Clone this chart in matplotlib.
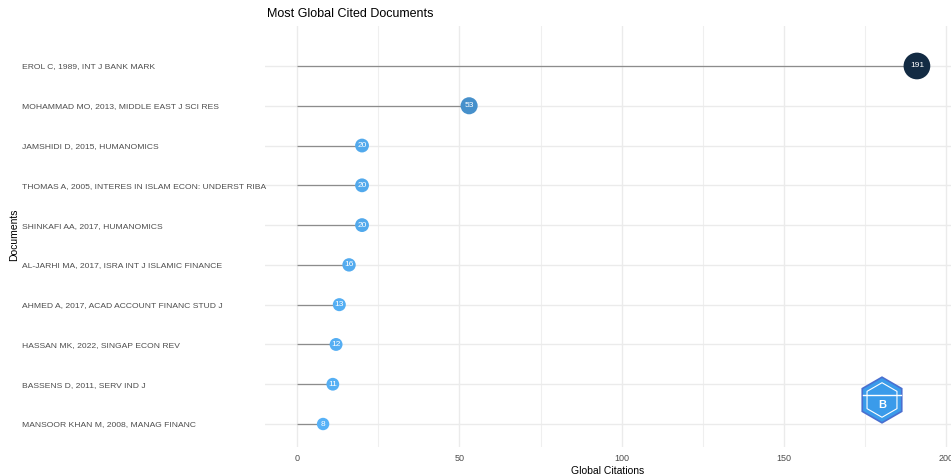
"""Most Global Cited Documents - lollipop chart"""
import matplotlib
matplotlib.use("Agg")
import matplotlib.pyplot as plt
import numpy as np
from matplotlib.colors import LinearSegmentedColormap, Normalize
from matplotlib.patches import RegularPolygon

plt.rcParams['font.family'] = ['Liberation Sans', 'DejaVu Sans']

# 数据
documents = [
    "EROL C, 1989, INT J BANK MARK",
    "MOHAMMAD MO, 2013, MIDDLE EAST J SCI RES",
    "JAMSHIDI D, 2015, HUMANOMICS",
    "THOMAS A, 2005, INTERES IN ISLAM ECON: UNDERST RIBA",
    "SHINKAFI AA, 2017, HUMANOMICS",
    "AL-JARHI MA, 2017, ISRA INT J ISLAMIC FINANCE",
    "AHMED A, 2017, ACAD ACCOUNT FINANC STUD J",
    "HASSAN MK, 2022, SINGAP ECON REV",
    "BASSENS D, 2011, SERV IND J",
    "MANSOOR KHAN M, 2008, MANAG FINANC",
]
citations = [191, 53, 20, 20, 20, 16, 13, 12, 11, 8]
x_ticks = [0, 50, 100, 150, 200]

fig = plt.figure(figsize=(9.51, 4.75), dpi=100)
W, H = 951, 475
ax = fig.add_axes([265 / W, 1 - 447 / H, (951 - 265) / W, (447 - 26) / H])

n = len(documents)
ypos = np.arange(n, 0, -1)  # top row = n
vals = np.array(citations)

cmap = LinearSegmentedColormap.from_list("gg", ["#56B1F7", "#132B43"])
norm = Normalize(vmin=vals.min(), vmax=vals.max())
sizes = 80 + (vals - vals.min()) / (vals.max() - vals.min()) * 290

# 网格
for xv in [25, 75, 125, 175]:
    ax.axvline(xv, color="#EFEFEF", lw=0.8, zorder=0)
for xv in x_ticks:
    ax.axvline(xv, color="#EBEBEB", lw=1.0, zorder=0)
for yv in ypos:
    ax.axhline(yv, color="#EBEBEB", lw=1.0, zorder=0)

ax.hlines(ypos, 0, vals, color="#8C8C8C", lw=0.9, zorder=1)
ax.scatter(vals, ypos, s=sizes, c=cmap(norm(vals)), zorder=2, linewidths=0)
for v, y in zip(vals, ypos):
    ax.text(v, y, str(v), color="white", fontsize=6, ha="center", va="center", zorder=3)

ax.set_xlim(-9.9, 201.5)
ax.set_ylim(1 - 23 / 39.8, n + 40 / 39.8)
ax.set_xticks(x_ticks)
ax.set_xticklabels([str(t) for t in x_ticks], fontsize=6.5, color="#4D4D4D")
ax.set_yticks(ypos)
ax.set_yticklabels(documents, fontsize=6.1, color="#4D4D4D")
for lab in ax.get_yticklabels():
    lab.set_horizontalalignment("left")
ax.tick_params(axis="y", length=0, pad=(265 - 22) * 0.72)
ax.tick_params(axis="x", length=0, pad=5)
for s in ax.spines.values():
    s.set_visible(False)

ax.set_xlabel("Global Citations", fontsize=7.5, labelpad=2)
fig.text(14 / W, 1 - 235 / H, "Documents", rotation=90, fontsize=7.5, ha="center", va="center")
fig.text(267 / W, 1 - 14 / H, "Most Global Cited Documents", fontsize=9, ha="left", va="center")

# 徽标
logo = fig.add_axes([858 / W, 1 - 424 / H, 48 / W, 48 / H])
logo.set_xlim(-1, 1)
logo.set_ylim(-1, 1)
logo.set_aspect("equal")
logo.axis("off")
logo.add_patch(RegularPolygon((0, 0), 6, radius=0.95, facecolor="#3A9BEA", edgecolor="#4A6FD0", lw=1.2))
logo.add_patch(RegularPolygon((0, 0), 6, radius=0.72, facecolor="none", edgecolor="white", lw=0.8))
logo.plot([-0.8, 0.8], [0.2, 0.2], color="white", lw=1.0)
logo.text(0, -0.2, "B", color="white", fontsize=8, ha="center", va="center", fontweight="bold")

fig.savefig("out.png", dpi=100)
